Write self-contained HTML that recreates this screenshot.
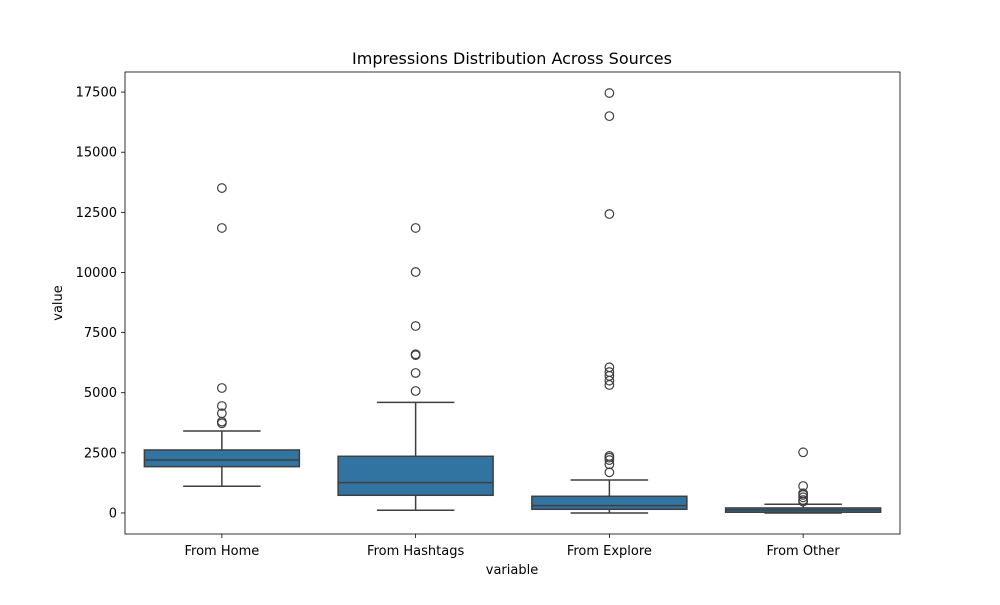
<!DOCTYPE html>
<html><head><meta charset="utf-8"><style>
body{margin:0;background:#fff;font-family:"Liberation Sans","DejaVu Sans",sans-serif;}
svg text{font-family:"DejaVu Sans","Liberation Sans",sans-serif;}
</style></head><body>
<svg id="chart" width="1000" height="600" xmlns="http://www.w3.org/2000/svg"></svg>
<script>
const categories = ["From Home","From Hashtags","From Explore","From Other"];
const q1 = [1925, 735, 153, 30];
const medians = [2203, 1260, 305, 125];
const q3 = [2619, 2356, 693, 208];
const whiskerLow = [1110, 110, 0, 0];
const whiskerHigh = [3408, 4600, 1372, 362];
const outliers = [
  [13510, 11850, 5196, 4448, 4144, 3795, 3729],
  [11850, 10018, 7773, 6600, 6560, 5820, 5071],
  [17460, 16500, 12430, 6056, 5860, 5700, 5500, 5320, 2370, 2300, 2200, 2020, 1690],
  [2523, 1122, 820, 750, 650, 540, 470]
];
const yTicks = [0, 2500, 5000, 7500, 10000, 12500, 15000, 17500];

const NS = "http://www.w3.org/2000/svg";
const svg = document.getElementById("chart");
const L = 125, R = 900, T = 72, B = 534;
const yMin = -875, yMax = 18335;
function y(v){ return B - (v - yMin) / (yMax - yMin) * (B - T); }
const band = (R - L) / categories.length;
function xc(i){ return L + band * (i + 0.5); }
function mk(tag, attrs, parent){
  const e = document.createElementNS(NS, tag);
  for (const k in attrs) e.setAttribute(k, attrs[k]);
  (parent || svg).appendChild(e);
  return e;
}
const line = "#3f3f3f";
// title
const title = mk("text", {x:512, y:64, "text-anchor":"middle", "font-size":16, fill:"#000"});
title.textContent = "Impressions Distribution Across Sources";



categories.forEach((c, i) => {
  const g = mk("g", {});
  
  
  const cx = xc(i), bw = band * 0.8, cw = bw * 0.5;
  mk("line", {x1:cx, x2:cx, y1:y(q3[i]), y2:y(whiskerHigh[i]), stroke:line, "stroke-width":1.5}, g);
  mk("line", {x1:cx, x2:cx, y1:y(q1[i]), y2:y(whiskerLow[i]), stroke:line, "stroke-width":1.5}, g);
  mk("line", {x1:cx-cw/2, x2:cx+cw/2, y1:y(whiskerHigh[i]), y2:y(whiskerHigh[i]), stroke:line, "stroke-width":1.5}, g);
  mk("line", {x1:cx-cw/2, x2:cx+cw/2, y1:y(whiskerLow[i]), y2:y(whiskerLow[i]), stroke:line, "stroke-width":1.5}, g);
  mk("rect", {x:cx-bw/2, y:y(q3[i]), width:bw, height:Math.max(1, y(q1[i]) - y(q3[i])), fill:"#3274a1", stroke:line, "stroke-width":1.5}, g);
  mk("line", {x1:cx-bw/2, x2:cx+bw/2, y1:y(medians[i]), y2:y(medians[i]), stroke:line, "stroke-width":1.5}, g);
  outliers[i].forEach(v => {
    const o = mk("circle", {cx:cx, cy:y(v), r:4.3, fill:"none", stroke:line, "stroke-width":1.2}, g);
    
    
  });
  mk("line", {x1:cx, x2:cx, y1:B, y2:B+4, stroke:"#000", "stroke-width":0.8});
  const t = mk("text", {x:cx, y:B+21, "text-anchor":"middle", "font-size":13, fill:"#000"});
  t.textContent = c;
  
  
});

yTicks.forEach(v => {
  mk("line", {x1:L-4, x2:L, y1:y(v), y2:y(v), stroke:"#000", "stroke-width":0.8});
  const t = mk("text", {x:L-8, y:y(v)+4.5, "text-anchor":"end", "font-size":13, fill:"#000"});
  t.textContent = v;
  
  
});

const frame = mk("rect", {x:L, y:T, width:R-L, height:B-T, fill:"none", stroke:"#000", "stroke-width":0.8});



const xl = mk("text", {x:512, y:574, "text-anchor":"middle", "font-size":13, fill:"#000"});
xl.textContent = "variable";


const yl = mk("text", {x:0, y:0, "text-anchor":"middle", "font-size":13, fill:"#000", transform:"translate(62,303) rotate(-90)"});
yl.textContent = "value";


</script>
</body></html>
